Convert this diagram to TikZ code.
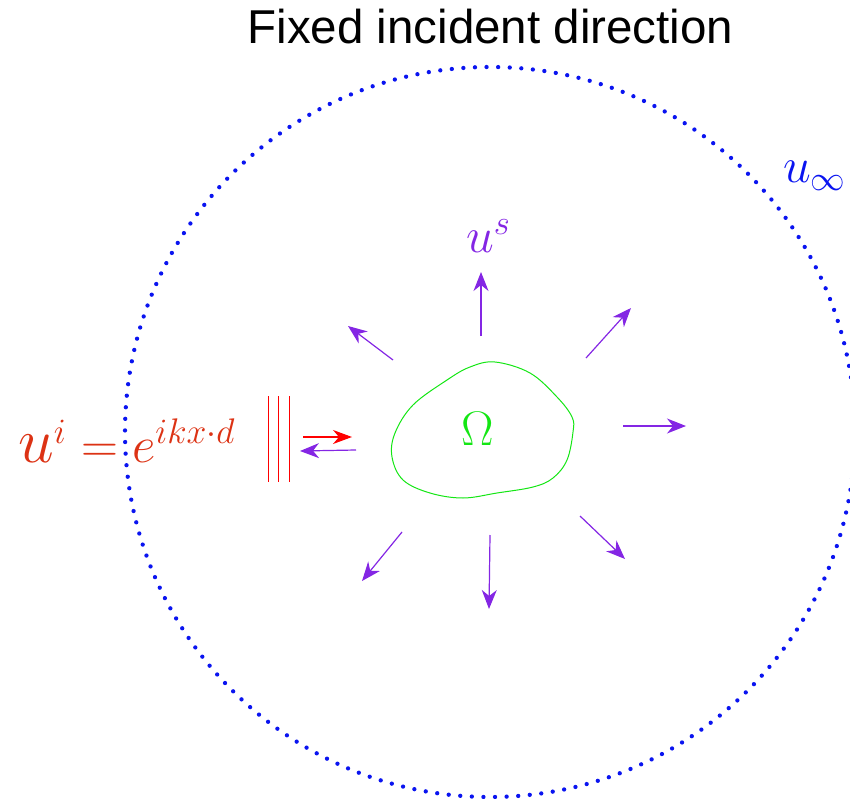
\documentclass[tikz,border=0pt]{standalone}
\usepackage[no-math]{fontspec}
\newfontfamily\titlefont{Liberation Sans}
\usetikzlibrary{arrows.meta}
\definecolor{incred}{RGB}{220,50,20}
\definecolor{scatpurple}{RGB}{132,38,228}
\definecolor{objgreen}{RGB}{20,230,20}
\definecolor{farblue}{RGB}{10,20,240}
\newcommand{\mybigmath}[2][2]{\scalebox{#1}{\fontsize{25}{30}\selectfont #2}}
\tikzset{
  scatarrow/.style={draw=scatpurple, line width=1.2pt, -{Stealth[length=19pt,width=15pt,inset=6pt]}},
  incarrow/.style={draw=red, line width=1.2pt, -{Stealth[length=19pt,width=14pt,inset=6pt]}},
  waveline/.style={draw=red, line width=1pt},
  farcircle/.style={draw=farblue, line width=4.3pt, line cap=round, dash pattern=on 0pt off 11.6pt},
  bigmath/.style={inner sep=0pt}
}
\begin{document}
\begin{tikzpicture}[x=1pt,y=-1pt]
\useasboundingbox (0,0) rectangle (850,799);
% title
\node[inner sep=0pt, anchor=base, font=\titlefont\fontsize{47.5}{56}\selectfont] (title) at (490.5,44) {Fixed incident direction};
% far-field circle
\coordinate (cc) at (490,432);
\draw[farcircle] (cc) circle[radius=365];
\node[bigmath, anchor=base west, text=farblue] (uinf) at (783,183) {\mybigmath{$u_\infty$}};
% obstacle
\draw[objgreen, line width=1pt] plot[smooth cycle, tension=0.6] coordinates {
  (495,362) (530,373) (557,397) (572,417) (573,432) (567,460) (553,478) (533,487) (497,493) (463,498) (430,493) (403,480) (392,457) (395,433) (413,405) (447,380) (470,367)};
\node[bigmath, text=objgreen] (omega) at (477.5,429) {\scalebox{1.95}{\fontsize{25}{30}\selectfont$\Omega$}};
% incident wave
\node[bigmath, anchor=base west, text=incred] (uinc) at (18,462) {\mybigmath[2.06]{$\scalebox{1.25}{$u$}^{i}=e^{ikx\cdot d}$}};
\coordinate (w1a) at (268,396); \coordinate (w1b) at (268,482);
\coordinate (w2a) at (278,396); \coordinate (w2b) at (278,482);
\coordinate (w3a) at (289,396); \coordinate (w3b) at (289,482);
\draw[waveline] (w1a) -- (w1b);
\draw[waveline] (w2a) -- (w2b);
\draw[waveline] (w3a) -- (w3b);
\coordinate (ia) at (303,437); \coordinate (ib) at (352,437);
\draw[incarrow] (ia) -- (ib);
\coordinate (ba) at (356,450); \coordinate (bb) at (300,451);
\draw[scatarrow] (ba) -- (bb);
% scattered arrows
\coordinate (s1a) at (481,336); \coordinate (s1b) at (481,272);
\coordinate (s2a) at (393,360); \coordinate (s2b) at (348,326);
\coordinate (s3a) at (586,358); \coordinate (s3b) at (631,308);
\coordinate (s4a) at (623,426); \coordinate (s4b) at (686,426);
\coordinate (s5a) at (580,516); \coordinate (s5b) at (625,559);
\coordinate (s6a) at (490,535); \coordinate (s6b) at (489,609);
\coordinate (s7a) at (402,532); \coordinate (s7b) at (362,581);
\draw[scatarrow] (s1a) -- (s1b);
\draw[scatarrow] (s2a) -- (s2b);
\draw[scatarrow] (s3a) -- (s3b);
\draw[scatarrow] (s4a) -- (s4b);
\draw[scatarrow] (s5a) -- (s5b);
\draw[scatarrow] (s6a) -- (s6b);
\draw[scatarrow] (s7a) -- (s7b);
\node[bigmath, anchor=base west, text=scatpurple] (us) at (466,253) {\mybigmath{$u^{s}$}};
\end{tikzpicture}
\end{document}
